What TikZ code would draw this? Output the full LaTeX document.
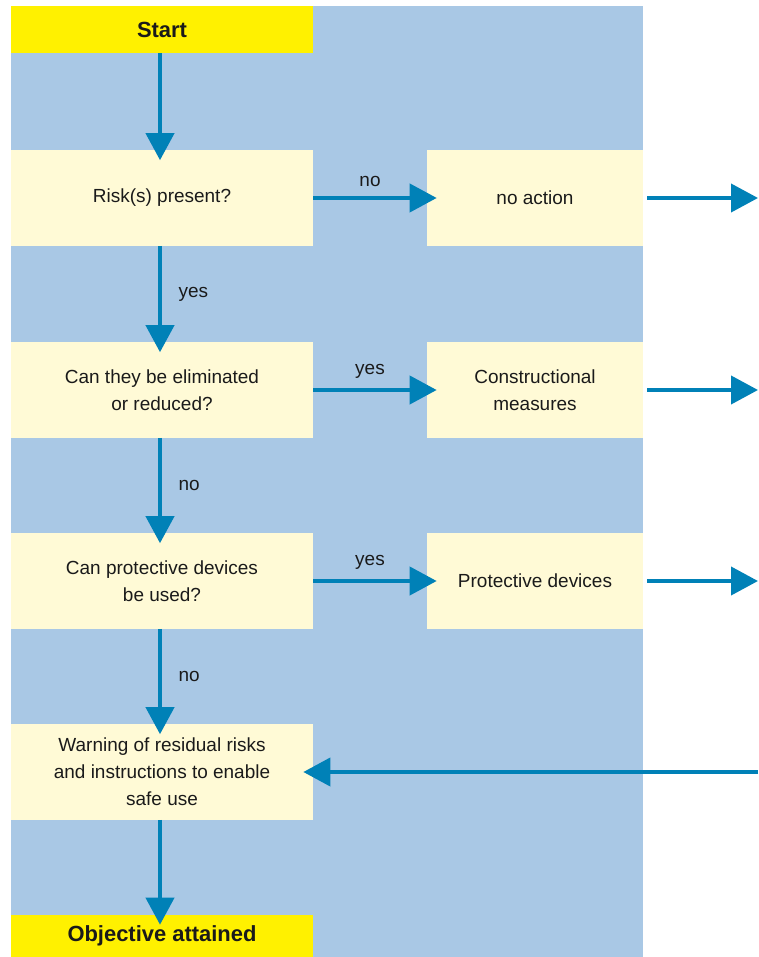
\documentclass[tikz,border=0pt]{standalone}
\usepackage{fontspec}
\setmainfont{Liberation Sans}
\usetikzlibrary{arrows.meta}
\definecolor{panelblue}{HTML}{A9C8E5}
\definecolor{termyellow}{HTML}{FFF100}
\definecolor{stepcream}{HTML}{FFFAD6}
\definecolor{flowblue}{HTML}{0081B7}
\definecolor{inkblack}{HTML}{1A1A1A}

\begin{document}
\begin{tikzpicture}[x=0.025cm, y=-0.025cm,
    txt/.style={text=inkblack, font=\fontsize{13.5}{19.2}\selectfont},
    term/.style={fill=termyellow, inner sep=0pt, minimum width=7.55cm, text=inkblack, font=\fontsize{15.6}{18}\selectfont\bfseries},
    stepbox/.style={fill=stepcream, inner sep=0pt, minimum height=2.375cm, align=center, txt},
    flow/.style={-{Triangle[length=0.675cm, width=0.7cm]}, line width=0.1cm, flowblue, shorten >=-0.25cm}]
  \useasboundingbox (0,0) rectangle (758,957);
  % Hintergrund
  \fill[panelblue] (11,6) rectangle (643,957);

  % Start und Ziel
  \node[term, minimum height=1.175cm] (start) at (162,29.5) {Start};
  \node[term, minimum height=1.05cm] (goal) at (162,936) {Objective attained};

  % Fragen
  \node[stepbox, minimum width=7.55cm] (risk) at (162,198) {Risk(s) present?};
  \node[stepbox, minimum width=7.55cm] (elim) at (162,390) {Can they be eliminated\\or reduced?};
  \node[stepbox, minimum width=7.55cm] (guard) at (162,581) {Can protective devices\\be used?};
  \node[stepbox, minimum width=7.55cm] (warn) at (162,772) {Warning of residual risks\\and instructions to enable\\safe use};

  % Massnahmen
  \node[stepbox, minimum width=5.4cm] (noact) at (535,198) {no action};
  \node[stepbox, minimum width=5.4cm] (constr) at (535,390) {Constructional\\measures};
  \node[stepbox, minimum width=5.4cm] (devices) at (535,581) {Protective devices};

  % freie Enden rechts
  \coordinate (out1) at (noact.east -| 758,0);
  \coordinate (out2) at (constr.east -| 758,0);
  \coordinate (out3) at (devices.east -| 758,0);
  \coordinate (back) at (warn.east -| 758,0);

  % senkrechte Pfeile
  \draw[flow] (start.south -| 160,0) -- (risk.north -| 160,0);
  \draw[flow] (risk.south -| 160,0) -- node[txt, right=0.3cm] (lyes1) {yes} (elim.north -| 160,0);
  \draw[flow] (elim.south -| 160,0) -- node[txt, right=0.3cm] (lno2) {no} (guard.north -| 160,0);
  \draw[flow] (guard.south -| 160,0) -- node[txt, right=0.3cm] (lno3) {no} (warn.north -| 160,0);
  \draw[flow] (warn.south -| 160,0) -- (goal.north -| 160,0);

  % waagrechte Pfeile
  \draw[flow] (risk.east) -- node[txt, above=0.12cm] (lno1) {no} (noact.west);
  \draw[flow] (elim.east) -- node[txt, above=0.12cm] (lyes2) {yes} (constr.west);
  \draw[flow] (guard.east) -- node[txt, above=0.12cm] (lyes3) {yes} (devices.west);
  \draw[flow, shorten >=0pt] ([xshift=0.1cm]noact.east) -- (out1);
  \draw[flow, shorten >=0pt] ([xshift=0.1cm]constr.east) -- (out2);
  \draw[flow, shorten >=0pt] ([xshift=0.1cm]devices.east) -- (out3);
  \draw[flow] (back) -- (warn.east);
\end{tikzpicture}
\end{document}
